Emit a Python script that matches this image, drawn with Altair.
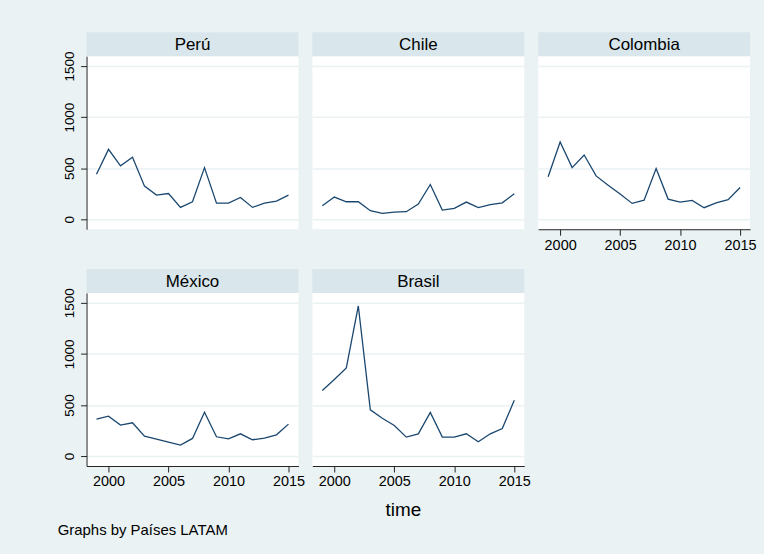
import altair as alt
import pandas as pd

# Yearly series by country
years = list(range(1999, 2016))
countries = ["Perú", "Chile", "Colombia", "México", "Brasil"]
peru = [441, 685, 523, 607, 325, 237, 253, 117, 172, 506, 159, 159, 214, 117, 159, 179, 237]
chile = [133, 218, 172, 172, 84, 58, 71, 75, 149, 341, 91, 107, 169, 114, 143, 162, 250]
colombia = [416, 756, 506, 630, 425, 334, 247, 156, 188, 497, 198, 169, 185, 114, 162, 192, 312]
mexico = [362, 391, 303, 326, 195, 166, 137, 107, 173, 430, 189, 169, 218, 160, 176, 208, 313]
brasil = [642, 749, 863, 1469, 453, 371, 300, 186, 218, 427, 186, 186, 218, 140, 218, 270, 547]
x_ticks = [2000, 2005, 2010, 2015]
y_ticks = [0, 500, 1000, 1500]
note = "Graphs by Países LATAM"

series = dict(zip(countries, [peru, chile, colombia, mexico, brasil]))
rows = []
for name, vals in series.items():
    for yr, v in zip(years, vals):
        rows.append({"pais": name, "time": yr, "value": v})
df = pd.DataFrame(rows)

FONT = "Liberation Sans"
W, H, STRIP = 213, 174, 24
BG = "#EAF2F3"
STRIP_FILL = "#D9E6EC"
LINE = "#1A476F"
AXIS_COLOR = "#222222"

x_scale = alt.Scale(domain=[1998.17, 2015.83], nice=False, zero=False)
y_scale = alt.Scale(domain=[-97, 1597], nice=False, zero=False)


def x_axis_for(show, title=None):
    if not show:
        return None
    opts = dict(values=x_ticks, format="d", grid=False, domain=True,
                domainColor=AXIS_COLOR, domainWidth=1, ticks=True,
                tickColor=AXIS_COLOR, tickSize=6, labelFont=FONT,
                labelFontSize=14.5, labelColor="black", labelPadding=3)
    if title:
        opts.update(title=title, titleFont=FONT, titleFontSize=19,
                    titleFontWeight="normal", titleColor="black",
                    titlePadding=12, titleX=91)
    else:
        opts.update(title=None)
    return alt.Axis(**opts)


def y_axis_for(show):
    if show:
        return alt.Axis(values=y_ticks, format="d", grid=True, gridColor=BG,
                        gridWidth=1.5, domain=True, domainColor=AXIS_COLOR,
                        domainWidth=1, ticks=True, tickColor=AXIS_COLOR,
                        tickSize=6, labelAngle=270, labelAlign="center",
                        labelBaseline="bottom", labelFont=FONT,
                        labelFontSize=13.5, labelColor="black",
                        labelPadding=4, title=None)
    return alt.Axis(values=y_ticks, grid=True, gridColor=BG, gridWidth=1.5,
                    domain=False, ticks=False, labels=False, title=None)


def panel(name, show_y, show_x, x_title=None):
    line = alt.Chart(df).transform_filter(alt.datum.pais == name).mark_line(
        color=LINE, strokeWidth=1.3
    ).encode(
        x=alt.X("time:Q", scale=x_scale, axis=x_axis_for(show_x, x_title)),
        y=alt.Y("value:Q", scale=y_scale, axis=y_axis_for(show_y)),
    )

    label_df = pd.DataFrame({"t": [name]})
    strip = alt.Chart(label_df).mark_rect(color=STRIP_FILL).encode(
        x=alt.value(0), x2=alt.value(W), y=alt.value(-STRIP), y2=alt.value(0)
    )
    strip_text = alt.Chart(label_df).mark_text(
        font=FONT, fontSize=17, color="black", align="center", baseline="middle"
    ).encode(text="t:N", x=alt.value(W / 2), y=alt.value(-STRIP / 2 + 1))

    return alt.layer(strip, line, strip_text).properties(width=W, height=H)


panels = [
    panel("Perú", True, False),
    panel("Chile", False, False),
    panel("Colombia", False, True),
    panel("México", True, True),
    panel("Brasil", False, True, x_title="time"),
]

chart = alt.concat(
    *panels, columns=3, bounds="flush",
    spacing={"row": 64, "column": 14},
).properties(
    background=BG,
    padding={"left": 57, "top": 31, "right": 7, "bottom": 14},
    title=alt.TitleParams(note, orient="bottom", anchor="start", font=FONT,
                          fontSize=15, fontWeight="normal", color="black",
                          dx=-5, offset=4),
).configure_view(fill="white", stroke=None)

chart.save("out.html", embed_options={"renderer": "svg", "actions": False})
